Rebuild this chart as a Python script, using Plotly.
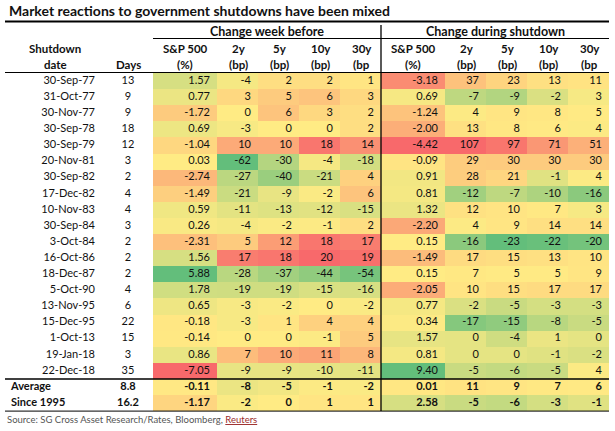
import numpy as np
import plotly.graph_objects as go

# ---------------- data ----------------
dates = ["30-Sep-77", "31-Oct-77", "30-Nov-77", "30-Sep-78", "30-Sep-79", "20-Nov-81",
         "30-Sep-82", "17-Dec-82", "10-Nov-83", "30-Sep-84", "3-Oct-84", "16-Oct-86",
         "18-Dec-87", "5-Oct-90", "13-Nov-95", "15-Dec-95", "1-Oct-13", "19-Jan-18",
         "22-Dec-18"]
summary_labels = ["Average", "Since 1995"]
days = [13, 9, 9, 18, 12, 3, 2, 4, 4, 3, 2, 2, 2, 4, 6, 22, 15, 3, 35]
days_summary = [8.8, 16.2]

spx_before = [1.57, 0.77, -1.72, 0.69, -1.04, 0.03, -2.74, -1.49, 0.59, 0.26, -2.31, 1.56,
              5.88, 1.78, 0.65, -0.18, -0.14, 0.86, -7.05, -0.11, -1.17]
y2_before = [-4, 3, 0, -3, 10, -62, -27, -21, -11, -4, 5, 17, -28, -19, -3, -3, 0, 7, -9, -8, -2]
y5_before = [2, 5, 6, 0, 10, -30, -40, -9, -13, -2, 12, 18, -37, -19, -2, 1, 0, 10, -9, -5, 0]
y10_before = [2, 6, 3, 0, 18, -4, -21, -2, -12, -1, 18, 20, -44, -15, 0, 4, -1, 11, -10, -1, 1]
y30_before = [1, 3, 2, 2, 14, -18, 4, 6, -15, 2, 17, 19, -54, -16, -2, 4, 5, 8, -11, -2, 1]

spx_during = [-3.18, 0.69, -1.24, -2.00, -4.42, -0.09, 0.91, 0.81, 1.32, -2.20, 0.15, -1.49,
              0.15, -2.05, 0.77, 0.34, 1.57, 0.81, 9.40, 0.01, 2.58]
y2_during = [37, -7, 4, 13, 107, 29, 28, -12, 12, 4, -16, 17, 7, 10, -2, -17, 0, 0, -5, 11, -5]
y5_during = [23, -9, 9, 8, 97, 30, 21, -7, 10, 9, -23, 15, 5, 15, -5, -15, -4, 0, -6, 9, -6]
y10_during = [13, -2, 8, 6, 71, 30, -1, -10, 7, 14, -22, 13, 5, 17, -3, -8, 1, -1, -5, 7, -3]
y30_during = [11, 3, 5, 4, 51, 30, 4, -16, 3, 14, -20, 10, 9, 17, -3, -5, 0, -2, 4, 6, -1]

group_titles = ["Change week before", "Change during shutdown"]
col_head1 = ["S&P 500", "2y", "5y", "10y", "30y", "S&P 500", "2y", "5y", "10y", "30y"]
col_head2 = ["(%)", "(bp)", "(bp)", "(bp)", "(bp", "(%)", "(bp)", "(bp)", "(bp)", "(bp"]
title = "Market reactions to government shutdowns have been mixed"

# ---------------- layout constants ----------------
W, H = 615, 431
FONT = "Lato"
TABLE_LEFT = 153
SPX_W, YLD_W = 64, 41
ROW_TOP, ROW_H = 73.0, 16.1
PAD = 7
LINE_L, LINE_R = 5, 609

widths = [SPX_W, YLD_W, YLD_W, YLD_W, YLD_W] * 2
x_edges = [TABLE_LEFT]
for w in widths:
    x_edges.append(x_edges[-1] + w)
n_rows = len(dates) + len(summary_labels)
y_edges = [ROW_TOP + i * ROW_H for i in range(n_rows + 1)]
y_centers = [(y_edges[i] + y_edges[i + 1]) / 2 for i in range(n_rows)]
mid_x = x_edges[5]

RED, YEL, GRN = "#F8696B", "#FFEB84", "#63BE7B"


def scale_block(cols, reverse):
    arr = np.array(cols, dtype=float)
    mn, mx, md = arr.min(), arr.max(), np.percentile(arr, 50)
    t = np.where(arr <= md, 0.5 * (arr - mn) / (md - mn), 0.5 + 0.5 * (arr - md) / (mx - md))
    return 1 - t if reverse else t


blocks = [
    scale_block([spx_before], False),
    scale_block([y2_before, y5_before, y10_before, y30_before], True),
    scale_block([spx_during], False),
    scale_block([y2_during, y5_during, y10_during, y30_during], True),
]
z = np.vstack(blocks).T

fig = go.Figure()
fig.add_trace(go.Heatmap(
    x=x_edges, y=y_edges, z=z, zmin=0, zmax=1,
    colorscale=[[0, RED], [0.5, YEL], [1, GRN]],
    showscale=False, hoverinfo="skip",
))

TXT = dict(family=FONT, size=11, color="#111")
all_cols = [spx_before, y2_before, y5_before, y10_before, y30_before,
            spx_during, y2_during, y5_during, y10_during, y30_during]
n_data = len(dates)
for ci, col in enumerate(all_cols):
    is_spx = ci % 5 == 0
    texts = []
    for ri, v in enumerate(col):
        s = f"{v:.2f}" if is_spx else f"{int(v)}"
        if ri >= n_data:
            s = f"<b>{s}</b>"
        texts.append(s)
    fig.add_trace(go.Scatter(
        x=[x_edges[ci + 1] - PAD] * len(col), y=y_centers, mode="text",
        text=texts, textposition="middle left", textfont=TXT,
        hoverinfo="skip", showlegend=False,
    ))

fig.add_trace(go.Scatter(
    x=[95] * n_data, y=y_centers[:n_data], mode="text", text=dates,
    textposition="middle left", textfont=TXT, hoverinfo="skip", showlegend=False))
fig.add_trace(go.Scatter(
    x=[11] * 2, y=y_centers[n_data:], mode="text",
    text=[f"<b>{s}</b>" for s in summary_labels],
    textposition="middle right", textfont=TXT, hoverinfo="skip", showlegend=False))
fig.add_trace(go.Scatter(
    x=[128] * n_rows, y=y_centers, mode="text",
    text=[str(d) for d in days] + [f"<b>{d:.1f}</b>" for d in days_summary],
    textposition="middle center", textfont=TXT, hoverinfo="skip", showlegend=False))

HDR = dict(family=FONT, size=11.5, color="#111")
ann = []
ann.append(dict(x=7, y=10, text=f"<b>{title}</b>", xanchor="left", yanchor="middle",
                font=dict(family=FONT, size=14, color="#111")))
for gi, gt in enumerate(group_titles):
    ann.append(dict(x=(x_edges[gi * 5] + x_edges[gi * 5 + 5]) / 2, y=31, text=f"<b>{gt}</b>",
                    xanchor="center", yanchor="middle", font=dict(family=FONT, size=12.5, color="#111")))
for ci in range(10):
    cx = (x_edges[ci] + x_edges[ci + 1]) / 2 + (0 if ci % 5 == 0 else 1)
    ann.append(dict(x=cx, y=48, text=f"<b>{col_head1[ci]}</b>", xanchor="center", yanchor="middle", font=HDR))
    ann.append(dict(x=cx, y=64, text=f"<b>{col_head2[ci]}</b>", xanchor="center", yanchor="middle", font=HDR))
ann.append(dict(x=55, y=48, text="<b>Shutdown</b>", xanchor="center", yanchor="middle", font=HDR))
ann.append(dict(x=55, y=64, text="<b>date</b>", xanchor="center", yanchor="middle", font=HDR))
ann.append(dict(x=128, y=64, text="<b>Days</b>", xanchor="center", yanchor="middle", font=HDR))
ann.append(dict(x=5, y=419, xanchor="left", yanchor="middle",
                text="Source: SG Cross Asset Research/Rates, Bloomberg, "
                     "<span style='color:#9B2B2B'><u>Reuters</u></span>",
                font=dict(family=FONT, size=9.5, color="#555")))
for a in ann:
    a.update(xref="x", yref="y", showarrow=False)

shapes = [
    dict(type="line", x0=LINE_L, x1=LINE_R, y0=21.5, y1=21.5, line=dict(color="black", width=2)),
    dict(type="line", x0=TABLE_LEFT, x1=LINE_R, y0=38.5, y1=38.5, line=dict(color="black", width=1)),
    dict(type="line", x0=LINE_L, x1=LINE_R, y0=72.5, y1=72.5, line=dict(color="black", width=1)),
    dict(type="line", x0=LINE_L, x1=LINE_R, y0=y_edges[n_data], y1=y_edges[n_data],
         line=dict(color="black", width=1.5)),
    dict(type="line", x0=LINE_L, x1=LINE_R, y0=y_edges[-1], y1=y_edges[-1], line=dict(color="black", width=1)),
    dict(type="line", x0=mid_x, x1=mid_x, y0=25, y1=y_edges[-1], line=dict(color="black", width=1.3)),
]
for s in shapes:
    s.update(xref="x", yref="y", layer="above")

fig.update_layout(
    width=W, height=H, margin=dict(l=0, r=0, t=0, b=0),
    paper_bgcolor="white", plot_bgcolor="white",
    xaxis=dict(range=[0, W], visible=False, fixedrange=True),
    yaxis=dict(range=[H, 0], visible=False, fixedrange=True),
    annotations=ann, shapes=shapes, showlegend=False, hovermode=False,
)
fig.write_html("out.html", config={"displayModeBar": False, "staticPlot": True},
               post_script="document.body.style.margin='0';document.body.style.overflow='hidden';")
